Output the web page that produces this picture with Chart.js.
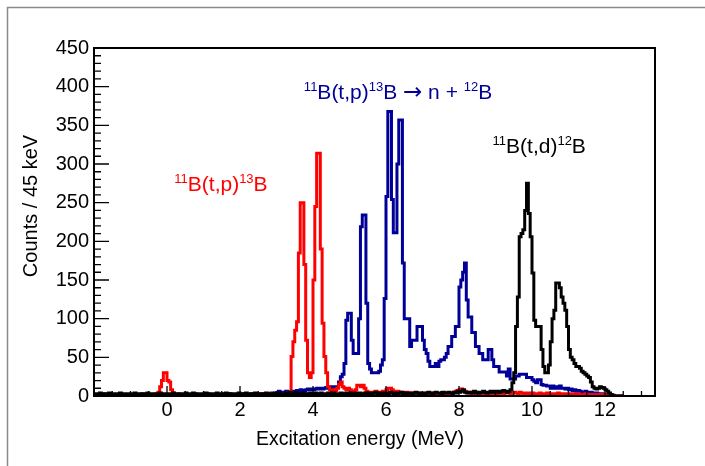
<!DOCTYPE html>
<html>
<head>
<meta charset="utf-8">
<script src="https://cdn.jsdelivr.net/npm/chart.js@4.4.1/dist/chart.umd.min.js"></script>
<style>
html, body { margin: 0; padding: 0; background: #fff; }
canvas { display: block; }
</style>
</head>
<body>
<canvas id="spectrum" width="705" height="466"></canvas>
<script>
const FONT = '"Liberation Sans", Arial, Helvetica, sans-serif';
Chart.defaults.font.family = FONT;
Chart.defaults.color = '#000';

// histogram binning (MeV), one row = 1 MeV
const E_START = -2;
const BIN_WIDTH = 0.05;
const X_TICKS = [0, 2, 4, 6, 8, 10, 12];
const Y_TICKS = [0, 50, 100, 150, 200, 250, 300, 350, 400, 450];

// 11B(t,p)13B
const RED = [
    2, 1, 0, 2, 1, 3, 1, 0, 2, 1, 1, 2, 0, 1, 3, 1, 2, 0, 1, 2,
    1, 2, 1, 0, 2, 1, 3, 2, 1, 2, 1, 2, 1, 2, 3, 5, 12, 20, 30, 30,
    20, 18, 8, 4, 2, 1, 3, 1, 2, 1, 2, 1, 0, 2, 1, 3, 1, 2, 1, 2,
    1, 2, 3, 1, 2, 1, 2, 0, 1, 2, 1, 3, 1, 2, 1, 2, 1, 1, 2, 1,
    2, 1, 3, 2, 1, 2, 1, 2, 3, 1, 2, 1, 3, 2, 1, 2, 3, 2, 1, 2,
    2, 3, 2, 3, 2, 3, 4, 5, 51, 70, 85, 96, 185, 250, 250, 170, 72, 30, 24, 30,
    150, 245, 314, 314, 190, 94, 51, 30, 12, 8, 6, 8, 7, 10, 15, 18, 12, 10, 8, 10,
    8, 6, 5, 8, 14, 14, 12, 14, 10, 6, 5, 4, 5, 4, 6, 5, 4, 5, 6, 5,
    8, 10, 10, 8, 6, 5, 6, 4, 5, 3, 4, 5, 3, 4, 3, 4, 3, 2, 4, 3,
    3, 2, 4, 3, 2, 3, 4, 2, 3, 2, 3, 4, 3, 2, 4, 3, 4, 5, 6, 7,
    8, 9, 7, 6, 5, 4, 5, 3, 4, 5, 4, 3, 4, 5, 3, 4, 3, 4, 3, 5,
    4, 3, 5, 4, 3, 4, 5, 4, 3, 4, 5, 4, 3, 5, 4, 3, 4, 3, 4, 3,
    4, 3, 2, 3, 4, 3, 2, 3, 4, 3, 2, 3, 2, 3, 4, 2, 3, 2, 3, 2,
    3, 2, 3, 2, 2, 3, 2, 1, 2, 3, 2, 1, 2, 2, 1, 2, 1, 2, 1, 2,
    1, 1, 0, 1, 0, 0, 0, 0, 0, 0,
];

// 11B(t,p)13B -> n + 12B
const BLUE = [
    1, 0, 1, 2, 0, 1, 1, 0, 2, 1, 0, 1, 1, 2, 0, 1, 0, 1, 2, 1,
    0, 1, 2, 1, 0, 1, 1, 2, 0, 1, 1, 0, 2, 1, 1, 0, 1, 2, 1, 1,
    2, 1, 0, 1, 2, 1, 1, 0, 2, 1, 1, 2, 1, 0, 1, 2, 1, 1, 2, 1,
    1, 2, 1, 2, 0, 1, 2, 1, 2, 1, 2, 1, 1, 2, 3, 1, 2, 1, 2, 2,
    2, 1, 3, 2, 1, 2, 3, 2, 1, 3, 2, 2, 3, 2, 3, 2, 3, 4, 3, 2,
    4, 6, 5, 4, 5, 6, 5, 4, 6, 5, 6, 7, 6, 8, 7, 6, 8, 9, 8, 9,
    8, 9, 10, 9, 10, 9, 10, 11, 10, 12, 11, 12, 12, 12, 18, 25, 28, 42, 98, 107,
    107, 72, 55, 55, 55, 100, 219, 234, 234, 120, 42, 35, 30, 30, 30, 30, 32, 40, 47, 126,
    258, 368, 368, 254, 211, 211, 300, 357, 357, 172, 100, 100, 100, 64, 72, 72, 72, 90, 90, 90,
    72, 60, 55, 45, 38, 38, 38, 42, 38, 45, 47, 47, 50, 55, 64, 64, 77, 77, 90, 90,
    141, 150, 160, 172, 124, 102, 102, 82, 82, 64, 64, 55, 55, 47, 47, 47, 60, 60, 47, 38,
    38, 38, 31, 31, 31, 31, 26, 35, 22, 22, 22, 26, 26, 28, 28, 28, 28, 24, 24, 24,
    21, 19, 17, 21, 21, 15, 14, 14, 13, 13, 10, 13, 10, 12, 10, 13, 10, 10, 9, 10,
    8, 9, 7, 8, 6, 7, 6, 5, 5, 6, 5, 4, 5, 4, 3, 4, 3, 2, 3, 2,
    2, 1, 1, 0, 0, 0, 0, 0, 0, 0,
];

// 11B(t,d)12B
const BLACK = [
    3, 2, 3, 4, 2, 3, 2, 3, 4, 3, 2, 3, 3, 2, 4, 3, 2, 3, 2, 3,
    2, 3, 4, 2, 3, 3, 2, 3, 2, 4, 3, 2, 3, 3, 2, 3, 4, 3, 2, 3,
    3, 2, 3, 4, 2, 3, 3, 2, 3, 2, 4, 3, 2, 3, 4, 3, 2, 3, 3, 2,
    3, 4, 2, 3, 2, 3, 3, 4, 2, 3, 3, 2, 4, 3, 2, 3, 3, 2, 3, 4,
    3, 2, 3, 4, 3, 2, 3, 3, 4, 2, 3, 3, 2, 3, 4, 3, 2, 3, 3, 4,
    3, 4, 3, 2, 3, 4, 3, 5, 3, 2, 3, 4, 3, 3, 4, 3, 2, 3, 4, 3,
    3, 4, 3, 3, 4, 3, 2, 3, 4, 3, 3, 4, 3, 2, 3, 4, 3, 3, 4, 3,
    4, 3, 3, 4, 3, 4, 3, 3, 4, 3, 4, 3, 3, 4, 5, 3, 4, 3, 4, 3,
    4, 3, 5, 4, 3, 4, 3, 4, 5, 3, 4, 3, 4, 4, 3, 4, 5, 4, 3, 4,
    4, 3, 4, 5, 4, 3, 4, 5, 4, 4, 3, 5, 4, 4, 5, 4, 3, 5, 4, 6,
    5, 6, 8, 5, 4, 5, 4, 5, 6, 4, 5, 4, 5, 6, 5, 4, 5, 6, 5, 6,
    5, 6, 5, 6, 7, 6, 5, 6, 8, 17, 30, 90, 128, 206, 210, 215, 240, 275, 236, 206,
    159, 98, 90, 90, 90, 60, 38, 30, 30, 40, 70, 100, 111, 146, 146, 140, 128, 120, 111, 90,
    60, 50, 47, 42, 38, 38, 36, 32, 30, 28, 26, 24, 18, 12, 10, 9, 10, 12, 11, 10,
    8, 6, 4, 2, 1, 0, 0, 0, 0, 0,
];

function histPoints(values) {
    const pts = values.map((v, i) => ({ x: E_START + i * BIN_WIDTH, y: v }));
    pts.push({ x: E_START + values.length * BIN_WIDTH, y: values[values.length - 1] });
    return pts;
}

function histDataset(values, color, order) {
    return {
        data: histPoints(values),
        borderColor: color,
        borderWidth: 3,
        stepped: 'before',
        pointRadius: 0,
        fill: false,
        order,
    };
}

// reaction labels, anchored in data coordinates (MeV, counts)
// part kinds: 0 = normal, 1 = superscript, 2 = arrow
const LABELS = [
    { e: 0.2,  c: 265, color: '#ff0000', parts: [['11', 1], ['B(t,p)', 0], ['13', 1], ['B', 0]] },
    { e: 3.75, c: 384, color: '#000099', parts: [['11', 1], ['B(t,p)', 0], ['13', 1], ['B ', 0], ['\u2192', 2], [' n + ', 0], ['12', 1], ['B', 0]] },
    { e: 8.92, c: 314, color: '#000000', parts: [['11', 1], ['B(t,d)', 0], ['12', 1], ['B', 0]] },
];

const PART_FONT = ['21px ' + FONT, '13px ' + FONT, '23px "DejaVu Sans", sans-serif'];
const PART_RAISE = [0, 8, 0];

function drawRich(ctx, x, y, parts, color) {
    ctx.fillStyle = color;
    ctx.textBaseline = 'alphabetic';
    ctx.textAlign = 'left';
    for (const [txt, kind] of parts) {
        ctx.font = PART_FONT[kind];
        ctx.fillText(txt, x, y - PART_RAISE[kind]);
        x += ctx.measureText(txt).width;
    }
}

const rootFrame = {
    id: 'rootFrame',
    beforeDraw(chart) {
        const { ctx } = chart;
        ctx.save();
        ctx.fillStyle = '#fff';
        ctx.fillRect(0, 0, chart.width, chart.height);
        ctx.strokeStyle = '#8a8a8a';
        ctx.lineWidth = 1.5;
        ctx.beginPath();
        ctx.moveTo(7.5, chart.height);
        ctx.lineTo(7.5, 7.5);
        ctx.lineTo(chart.width, 7.5);
        ctx.stroke();
        ctx.restore();
    },
    afterDatasetsDraw(chart) {
        const { ctx, chartArea: a, scales: { x, y } } = chart;
        ctx.save();
        ctx.strokeStyle = '#000';
        ctx.lineWidth = 1.3;
        ctx.beginPath();
        for (let v = E_START; v <= x.max; v += 0.5) {
            const px = x.getPixelForValue(v);
            const len = Math.abs(v % 2) < 1e-6 ? 10 : 5;
            ctx.moveTo(px, a.bottom);
            ctx.lineTo(px, a.bottom - len);
        }
        for (let v = 0; v <= y.max; v += 10) {
            const py = y.getPixelForValue(v);
            const len = v % 50 === 0 ? 15 : 7;
            ctx.moveTo(a.left, py);
            ctx.lineTo(a.left + len, py);
        }
        ctx.stroke();
        ctx.lineWidth = 2;
        ctx.strokeRect(a.left, a.top, a.right - a.left, a.bottom - a.top);

        // axis titles
        ctx.fillStyle = '#000';
        ctx.textBaseline = 'alphabetic';
        ctx.textAlign = 'center';
        ctx.font = '19.5px ' + FONT;
        ctx.fillText('Excitation energy (MeV)', 360, 445);
        ctx.save();
        ctx.translate(37, 206);
        ctx.rotate(-Math.PI / 2);
        ctx.font = '20px ' + FONT;
        ctx.fillText('Counts / 45 keV', 0, 0);
        ctx.restore();

        for (const l of LABELS) {
            drawRich(ctx, x.getPixelForValue(l.e), y.getPixelForValue(l.c), l.parts, l.color);
        }
        ctx.restore();
    },
};

new Chart(document.getElementById('spectrum'), {
    type: 'line',
    data: {
        datasets: [
            histDataset(BLACK, '#000000', 0),
            histDataset(RED, '#ff0000', 1),
            histDataset(BLUE, '#000099', 2),
        ],
    },
    options: {
        responsive: false,
        devicePixelRatio: 1,
        animation: false,
        layout: { padding: { top: 48, right: 50, left: 0, bottom: 0 } },
        plugins: {
            legend: { display: false },
            tooltip: { enabled: false },
        },
        scales: {
            x: {
                type: 'linear',
                min: -2,
                max: 13.37,
                afterBuildTicks: s => { s.ticks = X_TICKS.map(v => ({ value: v })); },
                afterFit: s => { s.height = 70; },
                grid: { display: false, drawTicks: false },
                border: { display: false },
                ticks: { font: { size: 20 }, color: '#000', padding: 2, maxRotation: 0, autoSkip: false },
            },
            y: {
                type: 'linear',
                min: 0,
                max: 450,
                afterBuildTicks: s => { s.ticks = Y_TICKS.map(v => ({ value: v })); },
                afterFit: s => { s.width = 94; },
                grid: { display: false, drawTicks: false },
                border: { display: false },
                ticks: { font: { size: 20 }, color: '#000', padding: 5, autoSkip: false },
            },
        },
    },
    plugins: [rootFrame],
});
</script>
</body>
</html>
